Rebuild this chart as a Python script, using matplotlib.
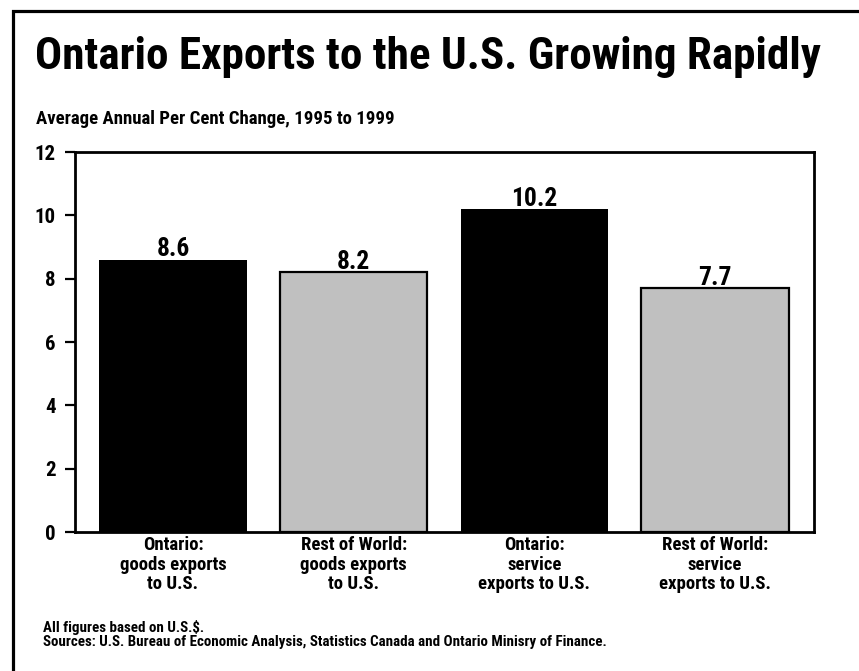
import matplotlib
matplotlib.use("Agg")
import matplotlib.pyplot as plt
from matplotlib.patches import Rectangle

# data
categories = ["Ontario:\ngoods exports\nto U.S.",
              "Rest of World:\ngoods exports\nto U.S.",
              "Ontario:\nservice\nexports to U.S.",
              "Rest of World:\nservice\nexports to U.S."]
values = [8.6, 8.2, 10.2, 7.7]
colors = ["black", "#c0c0c0", "black", "#c0c0c0"]
yticks = [0, 2, 4, 6, 8, 10, 12]

title = "Ontario Exports to the U.S. Growing Rapidly"
subtitle = "Average Annual Per Cent Change, 1995 to 1999"
note = "All figures based on U.S.$."
source = "Sources: U.S. Bureau of Economic Analysis, Statistics Canada and Ontario Minisry of Finance."

plt.rcParams["font.family"] = ["Roboto Condensed", "DejaVu Sans"]
plt.rcParams["font.weight"] = "bold"

W, H = 859, 671
fig = plt.figure(figsize=(W / 100, H / 100), dpi=100)
r = fig.canvas.get_renderer()


def fit(t, width_px):
    # rescale a text so its drawn width comes out at width_px
    w = t.get_window_extent(r).width
    t.set_fontsize(t.get_fontsize() * width_px / w)
    return t


# frame round the whole chart (right and bottom run off the page)
fig.patches.append(Rectangle((13 / W, -0.1), 1.2, 1.1 - 10.5 / H, transform=fig.transFigure,
                             fill=False, edgecolor="black", linewidth=2.3))

ax = fig.add_axes([75 / W, 1 - 532 / H, (814 - 75) / W, (532 - 152) / H])
for i, (v, c) in enumerate(zip(values, colors)):
    ax.bar(i, v, width=0.815, color=c, edgecolor="black", linewidth=1.6 if c != "black" else 0)
    lab = ax.text(i, v - 0.05, f"{v:.1f}", ha="center", va="bottom", fontsize=18, fontweight="bold")
    if i == 2:
        fit(lab, 46)
        vsize = lab.get_fontsize()
for t in ax.texts:
    t.set_fontsize(vsize)

ax.set_xlim(-0.542, 3.547)
ax.set_ylim(0, 12)
ax.set_yticks(yticks)
ax.set_yticklabels([str(t) for t in yticks], fontsize=15, fontweight="bold")
ax.set_xticks(range(len(values)))
ax.set_xticklabels(categories, fontsize=13.5, fontweight="bold", linespacing=1.1)
ax.tick_params(axis="x", length=0, pad=3)
ax.tick_params(axis="y", length=7, width=1.6, pad=7)
for s in ax.spines.values():
    s.set_linewidth(2)

fit(fig.text(35 / W, 1 - 69 / H, title, fontsize=38, fontweight="bold",
             ha="left", va="baseline"), 785)
fit(fig.text(36 / W, 1 - 124 / H, subtitle, fontsize=12, fontweight="bold",
             ha="left", va="baseline"), 357)
fn = fit(fig.text(43 / W, 1 - 646 / H, source, fontsize=9, fontweight="bold",
                  ha="left", va="baseline"), 565)
fig.text(43 / W, 1 - 632 / H, note, fontsize=fn.get_fontsize(), fontweight="bold",
         ha="left", va="baseline")

fig.savefig("out.png", dpi=100)
